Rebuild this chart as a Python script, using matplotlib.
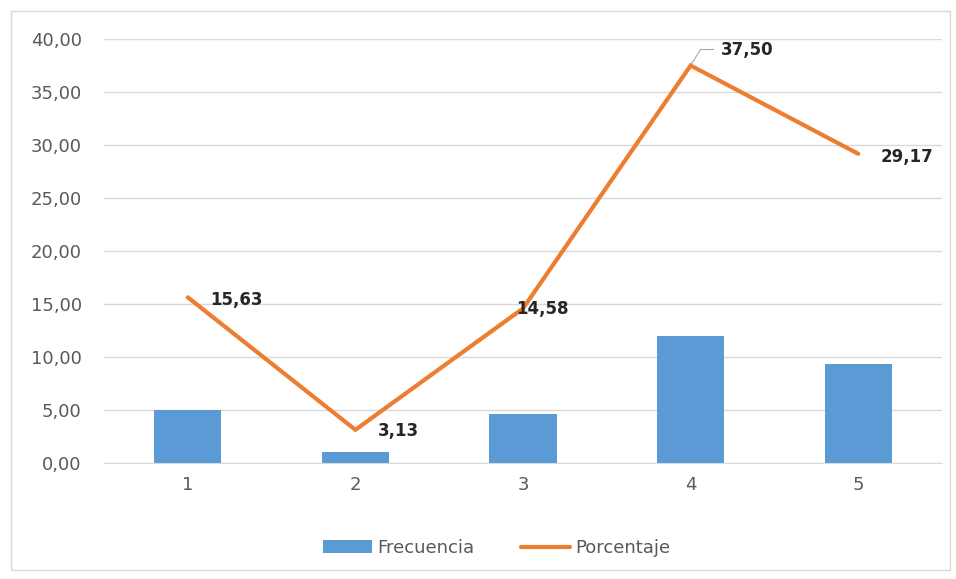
import numpy as np
import matplotlib.pyplot as plt
from matplotlib.ticker import FuncFormatter

categorias = ['1', '2', '3', '4', '5']
frecuencia = [5, 1, 4.6, 12, 9.33]
porcentaje = [15.63, 3.13, 14.58, 37.50, 29.17]

BAR_COLOR = '#5b9bd5'
LINE_COLOR = '#ed7d31'
TEXT_COLOR = '#595959'

plt.rcParams['font.family'] = ['DejaVu Sans']

fig = plt.figure(figsize=(9.56, 5.79), dpi=100)
ax = fig.add_axes([104 / 956, 1 - 463 / 579, (942 - 104) / 956, (463 - 39) / 579])

x = np.arange(len(categorias))
bars = ax.bar(x, frecuencia, width=0.4, color=BAR_COLOR, label='Frecuencia', zorder=2)
line, = ax.plot(x, porcentaje, color=LINE_COLOR, lw=3, label='Porcentaje',
                solid_capstyle='round', solid_joinstyle='miter', zorder=3)

# data labels (offsets in pixels)
offsets = [(22, -3), (22, -1), (-7, -1), (30, 15), (22, -3)]
for xi, yi, (dx, dy) in zip(x, porcentaje, offsets):
    txt = f'{yi:.2f}'.replace('.', ',')
    ax.annotate(txt, (xi, yi), xytext=(dx, dy), textcoords='offset pixels',
                ha='left', va='center', fontsize=12, fontweight='bold',
                color='#262626', zorder=4)

# leader line for the 37,50 label
ax.annotate('', (x[3], porcentaje[3]), xytext=(23, 16), textcoords='offset pixels',
            arrowprops=dict(arrowstyle='-', color='#a6a6a6', lw=0.8,
                            shrinkA=0, shrinkB=1,
                            connectionstyle='angle,angleA=0,angleB=58,rad=0'))

ax.set_xlim(-0.5, len(categorias) - 0.5)
ax.set_ylim(0, 40)
ax.set_yticks(np.arange(0, 41, 5))
ax.yaxis.set_major_formatter(FuncFormatter(lambda v, p: f'{v:.2f}'.replace('.', ',')))
ax.set_xticks(x)
ax.set_xticklabels(categorias)
ax.grid(axis='y', color='#d9d9d9', lw=1, zorder=0)
ax.tick_params(axis='both', length=0, labelsize=13, colors=TEXT_COLOR)
ax.tick_params(axis='x', pad=9)
ax.tick_params(axis='y', pad=16)
for s in ['top', 'right', 'left']:
    ax.spines[s].set_visible(False)
ax.spines['bottom'].set_color('#d9d9d9')

fig.legend(handles=[bars, line], labels=['Frecuencia', 'Porcentaje'],
           loc='center', bbox_to_anchor=(497 / 956, 1 - 548 / 579), ncol=2,
           frameon=False, fontsize=13, labelcolor=TEXT_COLOR, handlelength=2.7,
           handleheight=0.75, columnspacing=2.6, handletextpad=0.3)

# outer chart border
fig.patches.append(plt.Rectangle((11 / 956, 1 - 570 / 579), 939 / 956, 559 / 579,
                                 transform=fig.transFigure, fill=False,
                                 edgecolor='#d9d9d9', lw=1))

fig.savefig('out.png', dpi=100)
